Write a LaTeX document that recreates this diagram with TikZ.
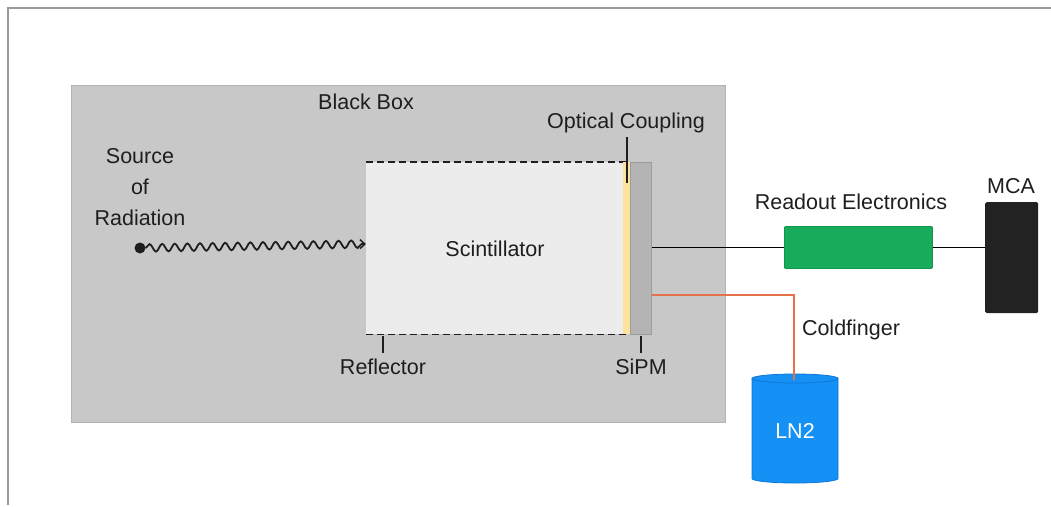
\documentclass[tikz,border=0pt]{standalone}
\usepackage{fontspec}
\setmainfont{Liberation Sans}
\usetikzlibrary{decorations.pathmorphing,arrows.meta}
\definecolor{framegray}{HTML}{9A9A9A}
\definecolor{boxgray}{HTML}{C8C8C8}
\definecolor{boxedge}{HTML}{B2B2B2}
\definecolor{scintfill}{HTML}{ECECEC}
\definecolor{couplefill}{HTML}{FCE29A}
\definecolor{sipmfill}{HTML}{B4B4B4}
\definecolor{sipmedge}{HTML}{9C9C9C}
\definecolor{readgreen}{HTML}{16AC5C}
\definecolor{readedge}{HTML}{12954F}
\definecolor{mcablack}{HTML}{222222}
\definecolor{coldorange}{HTML}{E8704A}
\definecolor{lnblue}{HTML}{1590F5}
\definecolor{lnedge}{HTML}{0E78D8}
\definecolor{txt}{HTML}{1E1E1E}
\tikzset{
  lbl/.style={font=\fontsize{21.5}{25}\selectfont, text=txt, inner sep=0pt},
  leader/.style={draw=txt, line width=1.6pt},
  wire/.style={draw=black, line width=1.4pt},
  reflect/.style={draw=txt, line width=1.6pt, dash pattern=on 7pt off 4pt}
}
\begin{document}
\begin{tikzpicture}[x=1pt,y=-1pt]
\useasboundingbox (0,0) rectangle (1051,506);
% outer frame (top and left edges)
\draw[framegray, line width=1.8pt] (8,505) -- (8,8) -- (1051,8);
% enclosure
\node[draw=boxedge, fill=boxgray, line width=1pt, minimum width=654pt, minimum height=337pt, anchor=north west, inner sep=0pt] (bbox) at (71,85) {};
\node[lbl] (bblabel) at (366,102) {Black Box};
% scintillator crystal with reflector wrap
\node[fill=scintfill, minimum width=257pt, minimum height=172pt, anchor=north west, inner sep=0pt] (scint) at (366,162) {};
\node[lbl] (scintlabel) at (495,249) {Scintillator};
\draw[reflect] (scint.north west) -- ++(262,0);
\draw[reflect] (scint.south west) -- ++(262,0);
% optical coupling layer
\node[fill=couplefill, minimum width=7pt, minimum height=172pt, anchor=north west, inner sep=0pt] (couple) at (623,162) {};
% SiPM
\node[draw=sipmedge, fill=sipmfill, line width=0.8pt, minimum width=21pt, minimum height=172pt, anchor=north west, inner sep=0pt] (sipm) at (630,162) {};
% labels with leader lines
\node[lbl] (oclabel) at (626,123) {Optical Coupling};
\coordinate (octop) at (627,137);
\coordinate (ocbot) at (627,183);
\draw[leader] (octop) -- (ocbot);
\node[lbl] (refllabel) at (383,367) {Reflector};
\coordinate (refltop) at (383,336);
\coordinate (reflbot) at (383,353);
\draw[leader] (refltop) -- (reflbot);
\node[lbl] (sipmlabel) at (641,367) {SiPM};
\coordinate (sipmtop) at (641,336);
\coordinate (sipmbot) at (641,353);
\draw[leader] (sipmtop) -- (sipmbot);
% radiation source
\node[lbl, align=center] (srclabel) at (140,187) {Source\\[6pt]of\\[6pt]Radiation};
\node[circle, fill=txt, minimum size=11pt, inner sep=0pt] (src) at (140,248) {};
\coordinate (hit) at (366,244);
\draw[txt, line width=1.8pt, -{Straight Barb[length=5pt,width=9pt,line width=1.4pt]},
  decorate, decoration={snake, amplitude=3.8pt, segment length=12.6pt, post length=3pt}]
  (src.east) -- (hit);
% readout chain
\node[draw=readedge, fill=readgreen, line width=0.8pt, rounded corners=1pt, minimum width=148pt, minimum height=42pt, anchor=north west, inner sep=0pt] (readout) at (784,226) {};
\node[lbl] (readlabel) at (851,202) {Readout Electronics};
\node[fill=mcablack, rounded corners=1.5pt, minimum width=53pt, minimum height=111pt, anchor=north west, inner sep=0pt] (mca) at (985,202) {};
\node[lbl] (mcalabel) at (1011,186) {MCA};
\draw[wire] (sipm.east |- readout.west) -- (readout.west);
\draw[wire] (readout.east) -- (readout.east -| mca.west);
% liquid nitrogen dewar
\fill[lnblue] (752,378.5) -- (752,478.5) arc[start angle=180, end angle=360, x radius=43pt, y radius=4.5pt]
  -- (838,378.5) arc[start angle=0, end angle=180, x radius=43pt, y radius=4.5pt] -- cycle;
\draw[lnedge, line width=0.8pt] (752,378.5) -- (752,478.5) arc[start angle=180, end angle=360, x radius=43pt, y radius=4.5pt] -- (838,378.5);
\draw[lnedge, line width=0.8pt] (795,378.5) ellipse[x radius=43pt, y radius=4.5pt];
\node[minimum width=86pt, minimum height=105pt, inner sep=0pt] (ln2) at (795,431) {};
\node[lbl, text=white] (ln2label) at (ln2.center) {LN2};
\coordinate (cfcorner) at (794,295);
\coordinate (cfend) at (794,380);
\draw[coldorange, line width=1.5pt] (sipm.east |- cfcorner) -- (cfcorner) -- (cfend);
\node[lbl] (cflabel) at (851,330) {Coldfinger};
\end{tikzpicture}
\end{document}
